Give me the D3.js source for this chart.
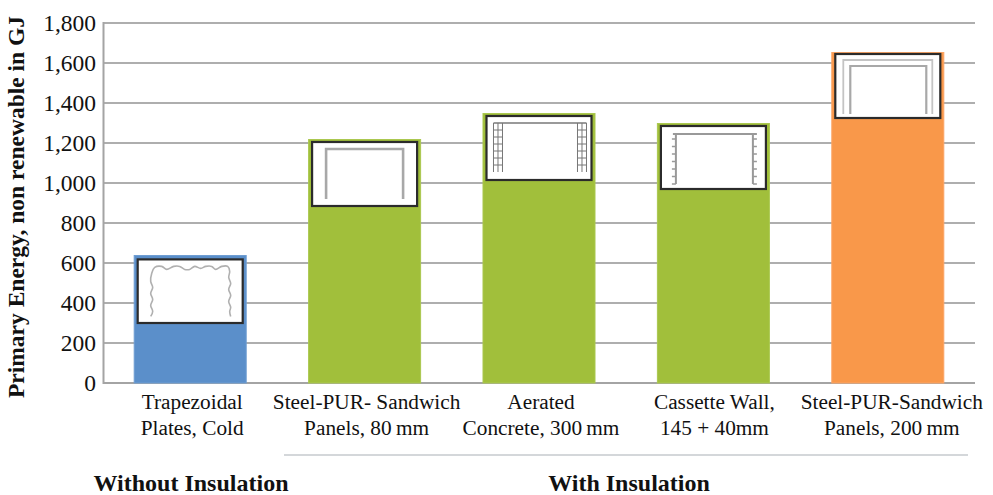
<!DOCTYPE html>
<html><head><meta charset="utf-8">
<script src="https://cdn.jsdelivr.net/npm/d3@7/dist/d3.min.js"></script>
<style>html,body{margin:0;background:#fff}svg{display:block}text{font-family:"Liberation Serif",serif;fill:#111}</style>
</head><body><svg id="c" width="993" height="495"></svg>
<script>
const categories=[["Trapezoidal","Plates, Cold"],["Steel-PUR- Sandwich","Panels, 80\u2009mm"],["Aerated","Concrete, 300\u2009mm"],["Cassette Wall,","145 + 40mm"],["Steel-PUR-Sandwich","Panels, 200\u2009mm"]];
const values=[640,1220,1350,1300,1655];
const barColors=["#5b8fca","#a1bf3b","#a1bf3b","#a1bf3b","#f9984a"];
const barEdges=["#6f9dd2","#abc850","#abc850","#abc850","#fba566"];
const insetTop=[618,1205,1335,1285,1645];
const insetBottom=[300,885,1015,970,1325];
const yTicks=[0,200,400,600,800,1000,1200,1400,1600,1800];
const groupLabels=["Without Insulation","With Insulation"];
const yTitle="Primary Energy, non renewable in GJ";

const svg=d3.select("#c");
const x=d3.scaleBand().domain(d3.range(5)).range([103,975]).paddingInner(0.352).paddingOuter(0.176);
const y=d3.scaleLinear().domain([0,1800]).range([383,23]);
const labelNudge=[2,2,2,1,4];

svg.append("g").selectAll("line").data(yTicks.filter(d=>d>0)).join("line")
 .attr("x1",103).attr("x2",975).attr("y1",y).attr("y2",y).attr("stroke","#aeaeae").attr("stroke-width",2);
svg.append("path").attr("d",`M103.5,${y(1800)-1}V${y(0)}H975`).attr("fill","none").attr("stroke","#a4a4a4").attr("stroke-width",2);

svg.append("g").selectAll("text").data(yTicks).join("text")
 .attr("x",96).attr("y",d=>y(d)+8).attr("text-anchor","end").style("font-size","23.5px").text(d=>d3.format(",")(d));

svg.append("g").selectAll("rect").data(values).join("rect")
 .attr("x",(d,i)=>x(i)+0.5).attr("width",x.bandwidth()-1)
 .attr("y",d=>y(d)+0.5).attr("height",d=>y(0)-y(d)-0.5)
 .attr("fill",(d,i)=>barColors[i]).attr("stroke",(d,i)=>barEdges[i]).attr("stroke-width",1);

const boxes=svg.append("g").selectAll("g").data(values).join("g")
 .attr("transform",(d,i)=>`translate(${x(i)+4},${y(insetTop[i])})`);
boxes.append("rect").attr("width",x.bandwidth()-8).attr("height",(d,i)=>y(insetBottom[i])-y(insetTop[i]))
 .attr("fill","#fff").attr("stroke","#2b2b2b").attr("stroke-width",2.2);

const grey=(g,w,c)=>g.attr("fill","none").attr("stroke",c||"#a8a8a8").attr("stroke-width",w);
// 0: wavy trapezoid
const waveTop=[[13,57],[15,52],[13,46],[15,40],[13,34],[15,28],[13,22],[14,14],[17,8],[24,7],[29,10],[36,7],[42,7],[47,10],[52,10],[57,7],[63,9],[68,7],[74,7],[78,10],[84,7],[90,7],[92,12],[91,18],[93,24],[91,30],[93,36],[91,42],[93,48],[92,52],[93,57]];
boxes.filter((d,i)=>i===0).append("path").attr("d",d3.line().curve(d3.curveCatmullRom)(waveTop)).call(grey,1.6,"#b0b0b0");
// 1: simple sandwich
boxes.filter((d,i)=>i===1).append("path").attr("d","M14,57V7H91V57").call(grey,2.6);
// 2: aerated blocks
const b2=boxes.filter((d,i)=>i===2);
b2.append("path").attr("d","M7,7H100").call(grey,2.2,"#9a9a9a");
[7,91].forEach(x0=>{
  b2.append("path").attr("d",`M${x0},7V56M${x0+4.5},7V56M${x0+9},7V56`).call(grey,1,"#777");
  b2.append("path").attr("d",d3.range(14,56,7).map(v=>`M${x0},${v}H${x0+9}`).join("")).call(grey,1,"#777");
});
// 3: cassette
const b3=boxes.filter((d,i)=>i===3);
b3.append("path").attr("d","M12,8H96M15,8V58M92,8V58").call(grey,2,"#999");
b3.append("path").attr("d",d3.range(13,60,7.5).map(v=>`M11,${v}H15M92,${v}H96`).join("")).call(grey,1.4,"#999");
// 4: thick sandwich
const b4=boxes.filter((d,i)=>i===4);
b4.append("path").attr("d","M8,60V6H97V60").call(grey,1.8,"#c4c4c4");
b4.append("path").attr("d","M15,60V12H91V60").call(grey,2.2);

const cats=svg.append("g").selectAll("text").data(categories).join("text")
 .attr("text-anchor","middle").style("font-size","21.3px");
cats.selectAll("tspan").data((d,i)=>d.map(t=>({t,i}))).join("tspan")
 .attr("x",d=>x(d.i)+x.bandwidth()/2+labelNudge[d.i])
 .attr("y",(d,j)=>j===0?409:435).text(d=>d.t);

svg.append("line").attr("x1",284).attr("x2",968).attr("y1",455).attr("y2",455).attr("stroke","#a9b0b5").attr("stroke-width",1.2);
svg.append("g").selectAll("text").data(groupLabels).join("text")
 .attr("x",(d,i)=>i?629:191).attr("y",491).attr("text-anchor","middle")
 .style("font-size","24px").style("font-weight","bold").text(d=>d);
svg.append("text").attr("transform","translate(24,207) rotate(-90)").attr("text-anchor","middle")
 .style("font-size","23.5px").style("font-weight","bold").text(yTitle);
</script></body></html>
